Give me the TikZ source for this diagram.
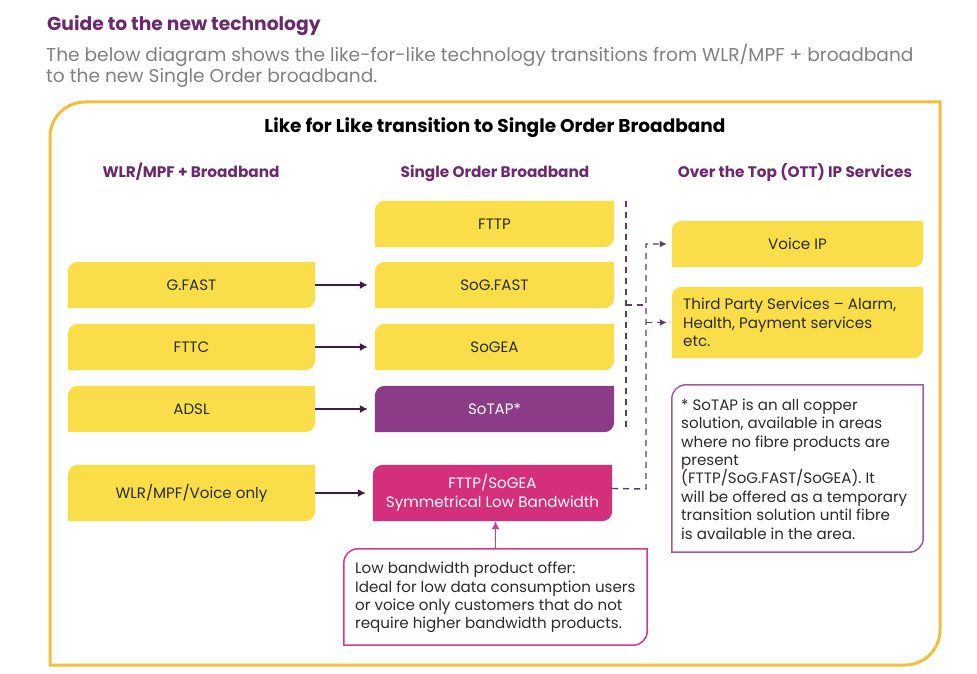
\documentclass[tikz,border=0pt]{standalone}
\usepackage{fontspec}
\setmainfont{Poppins}
\usetikzlibrary{arrows.meta,backgrounds}
\definecolor{ylw}{HTML}{F9DE4A}
\definecolor{frame}{HTML}{F2BF3D}
\definecolor{hdr}{HTML}{6B2A6E}
\definecolor{sotap}{HTML}{8C3B87}
\definecolor{mag}{HTML}{D42F7A}
\definecolor{notebd}{HTML}{A05BA0}
\definecolor{lowbd}{HTML}{D43A8A}
\definecolor{arr}{HTML}{3B1D3E}
\definecolor{dsh}{HTML}{5C3F5E}
\definecolor{txt}{HTML}{2B2B2B}
\definecolor{sub}{HTML}{808080}
\newcommand\leafbg[4]{%
  \begin{pgfonlayer}{background}
  \path[fill=#2,draw=#3,line width=1.5pt] ([yshift=-#4]#1.north west) arc[start angle=180,end angle=90,radius=#4] -- (#1.north east) -- ([yshift=#4]#1.south east) arc[start angle=0,end angle=-90,radius=#4] -- (#1.south west) -- cycle;
  \end{pgfonlayer}}
\newcommand\bx[7]{\node[#1, minimum width={#5-#3}, minimum height={#6-#4}] (#2) at ({(#3+#5)/2},{(#4+#6)/2}) {#7};}
\newcommand\bodyfont{\fontsize{15.1}{18.4}\selectfont}
\begin{document}
\begin{tikzpicture}[x=1pt,y=-1pt,
  box/.style={inner sep=0pt, font=\bodyfont, text=txt, align=center},
  wbox/.style={box, text=white},
  ltext/.style={inner sep=0pt, font=\bodyfont, text=txt, align=left, anchor=west},
  head/.style={font=\fontsize{15.3}{16}\selectfont\bfseries, text=hdr, anchor=base},
  arrow/.style={draw=arr, line width=1.3pt, -{Latex[length=8pt,width=8pt]}, shorten >=7pt},
  dline/.style={draw=dsh, line width=1.4pt, dash pattern=on 6pt off 5pt},
  darrow/.style={dline, -{Latex[length=7pt,width=7pt]}, shorten >=5pt}]
\useasboundingbox (0,0) rectangle (977,674);
% titles
\node[anchor=base west, font=\fontsize{18.7}{20}\selectfont\bfseries, text=hdr, inner sep=0pt] (title) at (47,31) {Guide to the new technology};
\node[anchor=north west, font=\fontsize{18.6}{20.3}\selectfont, text=sub, align=left, inner sep=0pt] (subtitle) at (46,44) {The below diagram shows the like-for-like technology transitions from WLR/MPF + broadband\\to the new Single Order broadband.};
% frame
\draw[frame, line width=3pt] (50,137) arc[start angle=180,end angle=90,radius=35pt] -- (940,102) -- (940,630) arc[start angle=0,end angle=-90,radius=35pt] -- (50,665) -- cycle;
\node[font=\fontsize{18.5}{20}\selectfont\bfseries, text=black, anchor=base] (main) at (495,133) {Like for Like transition to Single Order Broadband};
\node[head] (h1) at (191,178) {WLR/MPF + Broadband};
\node[head] (h2) at (495,178) {Single Order Broadband};
\node[head] (h3) at (795,178) {Over the Top (OTT) IP Services};
% left column
\bx{box}{gfast}{68}{262}{315}{308}{G.FAST}
\bx{box}{fttc}{68}{324}{315}{370}{FTTC}
\bx{box}{adsl}{68}{386}{315}{432}{ADSL}
\bx{box}{wlr}{68}{465}{315}{521}{WLR/MPF/Voice only}
% middle column
\bx{box}{fttp}{375}{201}{614}{247}{FTTP}
\bx{box}{sogfast}{375}{262}{614}{308}{SoG.FAST}
\bx{box}{sogea}{375}{324}{614}{370}{SoGEA}
\bx{wbox}{sotapb}{375}{386}{614}{432}{SoTAP*}
\bx{wbox}{fsg}{373}{465}{612}{521}{FTTP/SoGEA\\Symmetrical Low Bandwidth}
% right column
\bx{box}{voice}{672}{221}{923}{267}{Voice IP}
\bx{box}{third}{672}{287}{923}{358}{}
\node[ltext] (thirdt) at (683,322.5) {Third Party Services -- Alarm,\\Health, Payment services\\etc.};
\bx{box}{note}{672}{385}{923}{552}{}
\node[ltext] (notet) at (681,469) {* SoTAP is an all copper\\solution, available in areas\\where no fibre products are\\present\\(FTTP/SoG.FAST/SoGEA). It\\will be offered as a temporary\\transition solution until fibre\\is available in the area.};
\bx{box}{low}{344}{549}{647}{645}{}
\node[ltext] (lowt) at (355,597.5) {Low bandwidth product offer:\\Ideal for low data consumption users\\or voice only customers that do not\\require higher bandwidth products.};
% backgrounds
\leafbg{gfast}{ylw}{none}{10pt}
\leafbg{fttc}{ylw}{none}{10pt}
\leafbg{adsl}{ylw}{none}{10pt}
\leafbg{wlr}{ylw}{none}{10pt}
\leafbg{fttp}{ylw}{none}{10pt}
\leafbg{sogfast}{ylw}{none}{10pt}
\leafbg{sogea}{ylw}{none}{10pt}
\leafbg{sotapb}{sotap}{none}{10pt}
\leafbg{fsg}{mag}{none}{10pt}
\leafbg{voice}{ylw}{none}{10pt}
\leafbg{third}{ylw}{none}{10pt}
\leafbg{note}{white}{notebd}{14pt}
\leafbg{low}{white}{lowbd}{14pt}
% arrows
\draw[arrow] (gfast) -- (sogfast);
\draw[arrow] (fttc) -- (sogea);
\draw[arrow] (adsl) -- (sotapb);
\draw[arrow] (wlr) -- (fsg);
\draw[draw=lowbd, line width=1.3pt, -{Latex[length=8pt,width=8pt]}] (low.north) -- (low.north |- fsg.south);
% dashed connectors
\coordinate (d1t) at (626,201);
\coordinate (d1b) at (626,431);
\coordinate (j1) at (626,305);
\coordinate (j2) at (646,305);
\coordinate (d2b) at (646,489);
\coordinate (d2t) at (646,244);
\draw[dline, line width=1.2pt] (d1t) -- (d1b);
\draw[dline] (j1) -- (j2);
\draw[darrow] ([yshift=4.5pt]fsg.east) -- (d2b) -- (d2t) -- (voice.west);
\draw[darrow] (d2t |- third.west) -- (third.west);
\end{tikzpicture}
\end{document}
